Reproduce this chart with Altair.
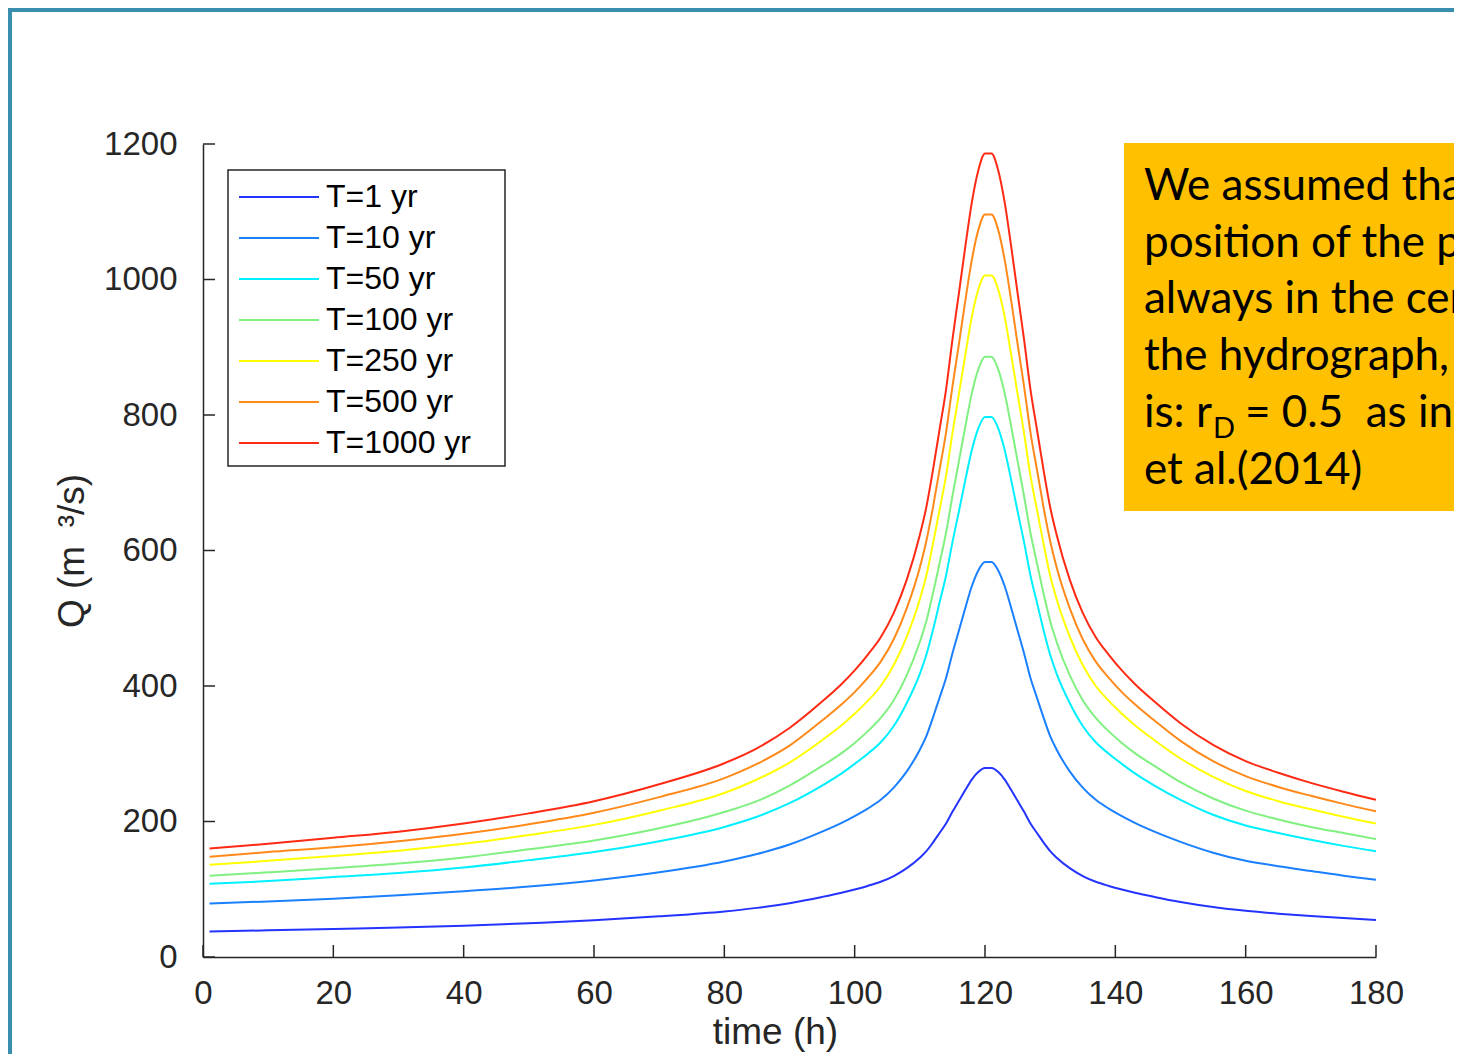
import altair as alt
import pandas as pd

# ---------------- data ----------------
time_h = [1, 10, 20, 30, 40, 50, 60, 70, 80, 85,
          90, 95, 98, 100, 102, 104, 106, 108, 110, 111,
          112, 113, 114, 115, 116, 117, 118, 119, 120, 121,
          122, 123, 124, 125, 126, 127, 128, 129, 130, 131,
          133, 135, 137, 139, 141, 143, 146, 150, 155, 160,
          165, 170, 175, 180]

q_T1 = [37.7, 39.3, 41.3, 43.5, 46.3, 49.9, 54.1, 60.0, 67.2, 72.5,
        79.5, 88.7, 94.9, 99.6, 104.9, 111.0, 119.4, 131.1, 146.5, 156.2,
        168.8, 182.7, 196.7, 214.3, 230.5, 246.9, 262.3, 273.4, 279, 279,
        273.4, 262.3, 246.9, 230.5, 214.3, 196.7, 182.7, 168.8, 156.2, 146.5,
        131.1, 119.4, 111.0, 104.9, 99.6, 94.9, 88.7, 81.2, 73.7, 68.1,
        63.9, 60.5, 57.5, 54.7]

q_T10 = [79, 82, 86, 91, 97, 104, 113, 125, 141, 152,
         166, 185, 198, 208, 219, 232, 250, 274, 306, 326,
         353, 382, 411, 448, 482, 516, 548, 571, 583, 583,
         571, 548, 516, 482, 448, 411, 382, 353, 326, 306,
         274, 250, 232, 219, 208, 198, 185, 170, 154, 142,
         134, 127, 120, 114]

q_T50 = [108, 112, 118, 124, 132, 143, 155, 171, 192, 207,
         227, 253, 271, 285, 300, 317, 341, 375, 418, 446,
         482, 522, 562, 612, 658, 705, 749, 781, 797, 797,
         781, 749, 705, 658, 612, 562, 522, 482, 446, 418,
         375, 341, 317, 300, 285, 271, 253, 232, 210, 194,
         183, 173, 164, 156]

q_T100 = [120, 125, 131, 138, 147, 159, 172, 190, 214, 230,
          253, 282, 301, 316, 333, 353, 379, 416, 465, 496,
          536, 580, 625, 680, 732, 784, 833, 868, 886, 886,
          868, 833, 784, 732, 680, 625, 580, 536, 496, 465,
          416, 379, 353, 333, 316, 301, 282, 258, 234, 216,
          203, 192, 183, 174]

q_T250 = [136, 142, 149, 157, 167, 180, 195, 216, 242, 262,
          287, 320, 342, 359, 378, 400, 431, 473, 528, 563,
          609, 659, 709, 773, 831, 890, 946, 986, 1006, 1006,
          986, 946, 890, 831, 773, 709, 659, 609, 563, 528,
          473, 431, 400, 378, 359, 342, 320, 293, 266, 245,
          230, 218, 207, 197]

q_T500 = [148, 155, 162, 171, 182, 196, 213, 236, 264, 285,
          312, 349, 373, 391, 412, 436, 469, 515, 575, 614,
          663, 718, 773, 842, 905, 970, 1030, 1074, 1096, 1096,
          1074, 1030, 970, 905, 842, 773, 718, 663, 614, 575,
          515, 469, 436, 412, 391, 373, 349, 319, 289, 267,
          251, 238, 226, 215]

q_T1000 = [160, 167, 176, 185, 197, 212, 230, 255, 286, 308,
           338, 377, 403, 423, 446, 472, 508, 557, 623, 664,
           718, 777, 836, 911, 980, 1050, 1115, 1162, 1186, 1186,
           1162, 1115, 1050, 980, 911, 836, 777, 718, 664, 623,
           557, 508, 472, 446, 423, 403, 377, 345, 313, 289,
           272, 257, 244, 232]

series_names = ["T=1 yr", "T=10 yr", "T=50 yr", "T=100 yr",
                "T=250 yr", "T=500 yr", "T=1000 yr"]
series_colors = ["#2433ff", "#1a80ff", "#00f0ff", "#80f080",
                 "#ffff00", "#ff8a1a", "#ff2a14"]
series_values = [q_T1, q_T10, q_T50, q_T100, q_T250, q_T500, q_T1000]

x_ticks = [0, 20, 40, 60, 80, 100, 120, 140, 160, 180]
y_ticks = [0, 200, 400, 600, 800, 1000, 1200]

note_lines = ["We assumed that the",
              "position of the peak is",
              "always in the centre of",
              "the hydrograph, that",
              "is: r",
              "et al.(2014)"]
note_sub = "D"
note_rest = "= 0.5\u00a0\u00a0as in Tomirotti"

# ---------------- build table ----------------
rows = []
for name, vals in zip(series_names, series_values):
    for t, q in zip(time_h, vals):
        rows.append({"time": t, "Q": q, "series": name})
df = pd.DataFrame(rows)

W, H = 1173, 813
AX = "#262626"
FONT = "Liberation Sans"
PAD_B = 97
PAD_R = 78

xscale = alt.Scale(domain=[0, 180], nice=False, zero=False)
yscale = alt.Scale(domain=[0, 1200], nice=False)

x_axis = alt.Axis(values=x_ticks, title="time (h)", grid=False, ticks=False,
                  domainColor=AX, domainWidth=1.5, format="d",
                  labelFont=FONT, labelFontSize=33, labelColor=AX,
                  labelPadding=20, labelFlush=False, labelOverlap=False,
                  titleFont=FONT, titleFontSize=37, titleFontWeight="normal",
                  titleColor=AX, titleX=572, titleY=86,
                  titleBaseline="alphabetic", titleAlign="center")
y_axis = alt.Axis(values=y_ticks, title="Q (m\u2002\u00b3/s)", grid=False, ticks=False,
                  domainColor=AX, domainWidth=1.5, format="d",
                  labelFont=FONT, labelFontSize=33, labelColor=AX,
                  labelPadding=26, labelFlush=False, labelOverlap=False,
                  titleFont=FONT, titleFontSize=37, titleFontWeight="normal",
                  titleColor=AX, titlePadding=12)

lines = alt.Chart(df).mark_line(strokeWidth=2, interpolate="monotone").encode(
    x=alt.X("time:Q", scale=xscale, axis=x_axis),
    y=alt.Y("Q:Q", scale=yscale, axis=y_axis),
    color=alt.Color("series:N", sort=series_names,
                    scale=alt.Scale(domain=series_names, range=series_colors),
                    legend=alt.Legend(orient="none", legendX=25, legendY=26, title=None,
                                      symbolType="M-1,0H4", symbolSize=1024,
                                      symbolStrokeWidth=2, labelFont=FONT,
                                      labelFontSize=32, labelColor="black",
                                      labelOffset=54, rowPadding=8, padding=10,
                                      strokeColor="transparent",
                                      fillColor="transparent")),
)

xt = alt.Chart(pd.DataFrame({"time": x_ticks})).mark_rule(color=AX, strokeWidth=1.5).encode(
    x=alt.X("time:Q", scale=xscale, axis=x_axis),
    y=alt.value(H), y2=alt.value(H - 12))
yt = alt.Chart(pd.DataFrame({"Q": y_ticks})).mark_rule(color=AX, strokeWidth=1.5).encode(
    y=alt.Y("Q:Q", scale=yscale, axis=y_axis),
    x=alt.value(0), x2=alt.value(12))

one = pd.DataFrame({"k": [0]})
frame_left = alt.Chart(one).mark_rect(color="#3b8fae").encode(
    x=alt.value(-195), x2=alt.value(-191), y=alt.value(-136), y2=alt.value(H + PAD_B))
frame_top = alt.Chart(one).mark_rect(color="#3b8fae").encode(
    x=alt.value(-195), x2=alt.value(W + PAD_R), y=alt.value(-136), y2=alt.value(-132))

legend_box = alt.Chart(one).mark_rect(fill="white", stroke=AX, strokeWidth=1.5).encode(
    x=alt.value(25), x2=alt.value(302), y=alt.value(26), y2=alt.value(322))

box = alt.Chart(one).mark_rect(color="#ffc000").encode(
    x=alt.value(921), x2=alt.value(W + PAD_R), y=alt.value(-1), y2=alt.value(367))

note_layers = []
for i, s in enumerate(note_lines):
    note_layers.append(
        alt.Chart(one).mark_text(font="Lato", fontSize=44, align="left",
                                 baseline="alphabetic", color="black").encode(
            x=alt.value(941), y=alt.value(56 + i * 56.7), text=alt.value(s)))
note_layers.append(
    alt.Chart(one).mark_text(font="Lato", fontSize=29, align="left",
                             baseline="alphabetic", color="black").encode(
        x=alt.value(1010), y=alt.value(56 + 4 * 56.7 + 11), text=alt.value(note_sub)))
note_layers.append(
    alt.Chart(one).mark_text(font="Lato", fontSize=44, align="left",
                             baseline="alphabetic", color="black").encode(
        x=alt.value(1042), y=alt.value(56 + 4 * 56.7), text=alt.value(note_rest)))

chart = alt.layer(frame_left, frame_top, box, *note_layers, legend_box,
                  lines, xt, yt).properties(
    width=W, height=H,
    autosize="none",
    padding={"left": 195, "top": 136, "right": PAD_R, "bottom": PAD_B},
    background="white",
).configure_view(stroke=None)

chart.save("out.html", embed_options={"renderer": "svg", "actions": False})
